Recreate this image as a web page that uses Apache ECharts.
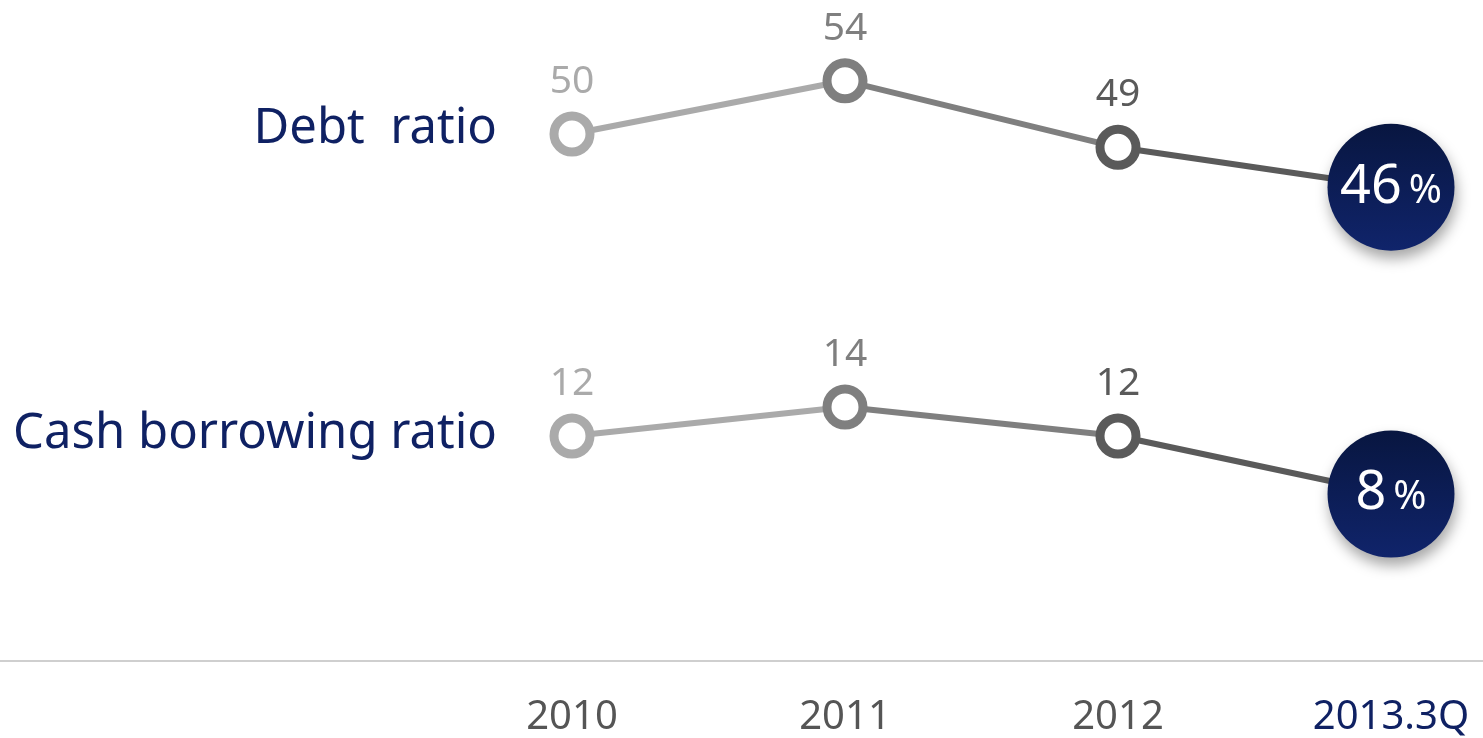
<!DOCTYPE html>
<html>
<head>
<meta charset="utf-8">
<script src="https://cdn.jsdelivr.net/npm/echarts@6/dist/echarts.min.js"></script>
<style>
  html, body { margin: 0; padding: 0; background: #ffffff; }
  #chart { width: 1483px; height: 738px; }
</style>
</head>
<body>
<div id="chart"></div>
<script>
// Periods along the bottom axis
const periods = ['2010', '2011', '2012', '2013.3Q'];
// Ratios (%) per period
const debtRatio = [50, 54, 49, 46];
const cashBorrowingRatio = [12, 14, 12, 8];
// Row titles
const rowTitles = ['Debt  ratio', 'Cash borrowing ratio'];

// Greys step darker toward the latest period; the latest period is highlighted in navy
const pointGreys = ['#aaaaaa', '#7f7f7f', '#5a5a5a'];
const navy = '#0f2163';
const fontFamily = '"Noto Sans", "Open Sans", sans-serif';

function buildData(values) {
  const last = values.length - 1;
  return values.map(function (v, i) {
    if (i < last) {
      return {
        value: v,
        symbolSize: 36,
        itemStyle: { color: '#ffffff', borderColor: pointGreys[i], borderWidth: 9 },
        label: {
          show: true, position: 'top', distance: 10,
          color: pointGreys[i], fontSize: 39, fontFamily: fontFamily, letterSpacing: -1
        }
      };
    }
    return {
      value: v,
      symbolSize: 127,
      itemStyle: {
        color: {
          type: 'linear', x: 0, y: 0, x2: 0, y2: 1,
          colorStops: [{ offset: 0, color: '#081640' }, { offset: 1, color: '#10246b' }]
        },
        borderWidth: 0,
        shadowColor: 'rgba(0,0,0,0.35)', shadowBlur: 14, shadowOffsetX: 2, shadowOffsetY: 8
      },
      label: {
        show: true, position: 'inside',
        formatter: function (p) { return '{num|' + p.value + '}{pct|%}'; },
        rich: {
          num: { color: '#ffffff', fontSize: 54, fontFamily: fontFamily, padding: [0, 7, 0, 0], letterSpacing: -4 },
          pct: { color: '#ffffff', fontSize: 40, fontFamily: fontFamily, padding: [8, 0, 0, 0] }
        }
      }
    };
  });
}

// Each segment takes the grey of the point it starts from
const segmentGradient = {
  type: 'linear', x: 0, y: 0, x2: 1, y2: 0,
  colorStops: [
    { offset: 0, color: pointGreys[0] }, { offset: 0.3333, color: pointGreys[0] },
    { offset: 0.3334, color: pointGreys[1] }, { offset: 0.6666, color: pointGreys[1] },
    { offset: 0.6667, color: pointGreys[2] }, { offset: 1, color: pointGreys[2] }
  ]
};

const chart = echarts.init(document.getElementById('chart'), null, { renderer: 'canvas' });

chart.setOption({
  animation: false,
  backgroundColor: '#ffffff',
  title: [
    {
      text: rowTitles[0], right: 986, top: 105, padding: 0,
      textStyle: { color: navy, fontSize: 49, fontWeight: 'normal', fontFamily: fontFamily }
    },
    {
      text: rowTitles[1], right: 986, top: 410, padding: 0,
      textStyle: { color: navy, fontSize: 49, fontWeight: 'normal', fontFamily: fontFamily }
    }
  ],
  grid: [
    { left: 572, right: 92, top: 1, height: 266 },
    { left: 572, right: 92, top: 320, height: 292 }
  ],
  xAxis: [
    {
      gridIndex: 0, type: 'category', data: periods, boundaryGap: false,
      axisLine: { show: false }, axisTick: { show: false }, axisLabel: { show: false },
      splitLine: { show: false }
    },
    {
      gridIndex: 1, type: 'category', data: periods, boundaryGap: false,
      axisLine: { show: false }, axisTick: { show: false }, splitLine: { show: false },
      axisLabel: {
        show: true, margin: 88, fontSize: 40, fontFamily: fontFamily, letterSpacing: -1,
        color: function (value, index) { return index === periods.length - 1 ? navy : '#555555'; }
      }
    }
  ],
  yAxis: [
    { gridIndex: 0, type: 'value', min: 40, max: 60, show: false, splitLine: { show: false } },
    { gridIndex: 1, type: 'value', min: 0, max: 20, show: false, splitLine: { show: false } }
  ],
  graphic: [
    {
      type: 'rect', silent: true,
      shape: { x: 0, y: 660, width: 1483, height: 2 },
      style: { fill: '#cfcfcf' }
    }
  ],
  series: [
    {
      type: 'line', xAxisIndex: 0, yAxisIndex: 0,
      data: buildData(debtRatio),
      symbol: 'circle',
      lineStyle: { width: 6, color: segmentGradient },
      emphasis: { disabled: true }, silent: true, z: 3
    },
    {
      type: 'line', xAxisIndex: 1, yAxisIndex: 1,
      data: buildData(cashBorrowingRatio),
      symbol: 'circle',
      lineStyle: { width: 6, color: segmentGradient },
      emphasis: { disabled: true }, silent: true, z: 3
    }
  ]
});
</script>
</body>
</html>
